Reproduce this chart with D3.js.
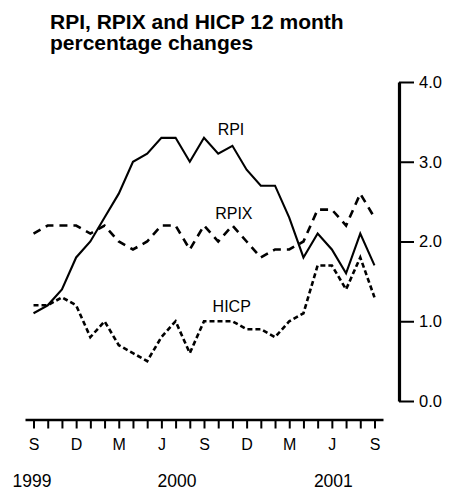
<!DOCTYPE html>
<html>
<head>
<meta charset="utf-8">
<script src="https://cdn.jsdelivr.net/npm/d3@7"></script>
<style>
  body { margin: 0; background: #fff; }
  svg { display: block; font-family: "Liberation Sans", Arial, Helvetica, sans-serif; }
</style>
</head>
<body>
<svg id="chart" width="449" height="491"></svg>
<script>
// monthly 12 month % changes, Sep 1999 - Sep 2001
var months = ["1999-09","1999-10","1999-11","1999-12","2000-01","2000-02","2000-03","2000-04",
              "2000-05","2000-06","2000-07","2000-08","2000-09","2000-10","2000-11","2000-12",
              "2001-01","2001-02","2001-03","2001-04","2001-05","2001-06","2001-07","2001-08","2001-09"];
var rpi  = [1.1,1.2,1.4,1.8,2.0,2.3,2.6,3.0,3.1,3.3,3.3,3.0,3.3,3.1,3.2,2.9,2.7,2.7,2.3,1.8,2.1,1.9,1.6,2.1,1.7];
var rpix = [2.1,2.2,2.2,2.2,2.1,2.2,2.0,1.9,2.0,2.2,2.2,1.9,2.2,2.0,2.2,2.0,1.8,1.9,1.9,2.0,2.4,2.4,2.2,2.6,2.3];
var hicp = [1.2,1.2,1.3,1.2,0.8,1.0,0.7,0.6,0.5,0.8,1.0,0.6,1.0,1.0,1.0,0.9,0.9,0.8,1.0,1.1,1.7,1.7,1.4,1.8,1.3];
var yTicks = [0, 1, 2, 3, 4];
var monthLetters = {"09":"S","12":"D","03":"M","06":"J"};
var years = ["1999", "2000", "2001"];

var svg = d3.select("#chart");

var x = d3.scalePoint().domain(months).range([25, 383]).padding(0.6);
var y = d3.scaleLinear().domain([0, 4]).range([401, 82]);

// title
var title = svg.append("text").attr("x", 50).attr("font-weight", "bold").attr("font-size", 21);
title.append("tspan").attr("x", 50).attr("y", 28.5).text("RPI, RPIX and HICP 12 month");
title.append("tspan").attr("x", 50).attr("y", 49.5).text("percentage changes");

// y axis on the right
var yAxis = svg.append("g").attr("transform", "translate(399,0)")
  .call(d3.axisRight(y).tickValues(yTicks).tickFormat(d3.format(".1f")).tickSize(15).tickSizeOuter(0).tickPadding(5));
yAxis.attr("font-family", null);
yAxis.select(".domain").attr("stroke-width", 3.2).attr("stroke", "#000");
yAxis.selectAll(".tick line").attr("stroke-width", 2).attr("stroke", "#000");
yAxis.selectAll(".tick text").attr("font-size", 16.5).attr("fill", "#000");

// x axis
var xAxis = svg.append("g").attr("transform", "translate(0,419.5)")
  .call(d3.axisBottom(x).tickSize(9).tickSizeOuter(0).tickPadding(10)
    .tickFormat(function(d){ return monthLetters[d.slice(5)] || ""; }));
xAxis.attr("font-family", null);
xAxis.select(".domain").attr("stroke-width", 2.3).attr("stroke", "#000");
xAxis.selectAll(".tick line").attr("stroke-width", 2).attr("stroke", "#000");
xAxis.selectAll(".tick text").attr("font-size", 16).attr("fill", "#000");

// years under the month letters
var yearAt = [months[0], months[10], months[21]];
svg.selectAll(".year").data(years).enter().append("text")
  .attr("class", "year")
  .attr("x", function(d, i){ return x(yearAt[i]) + (i == 0 ? -1.5 : 1.5); })
  .attr("y", 486.5)
  .attr("text-anchor", "middle")
  .attr("font-size", 17.5)
  .text(function(d){ return d; });

// series
var series = [
  {name: "RPI",  values: rpi,  width: 2.1, dash: null},
  {name: "RPIX", values: rpix, width: 2.6, dash: "8,6"},
  {name: "HICP", values: hicp, width: 2.6, dash: "5,3"}
];
var line = d3.line()
  .x(function(d, i){ return x(months[i]); })
  .y(function(d){ return y(d); });

svg.selectAll(".series").data(series).enter().append("path")
  .attr("class", "series")
  .attr("d", function(d){ return line(d.values); })
  .attr("fill", "none")
  .attr("stroke", "#000")
  .attr("stroke-width", function(d){ return d.width; })
  .attr("stroke-dasharray", function(d){ return d.dash; })
  .attr("stroke-linejoin", "miter");

// in-chart series labels
var labelPos = {RPI: [13.9, 3.33], RPIX: [14.1, 2.28], HICP: [13.95, 1.11]};
svg.selectAll(".slabel").data(series).enter().append("text")
  .attr("class", "slabel")
  .attr("x", function(d){ return x(months[0]) + labelPos[d.name][0] * x.step(); })
  .attr("y", function(d){ return y(labelPos[d.name][1]); })
  .attr("text-anchor", "middle")
  .attr("font-size", 16)
  .text(function(d){ return d.name; });
</script>
</body>
</html>
